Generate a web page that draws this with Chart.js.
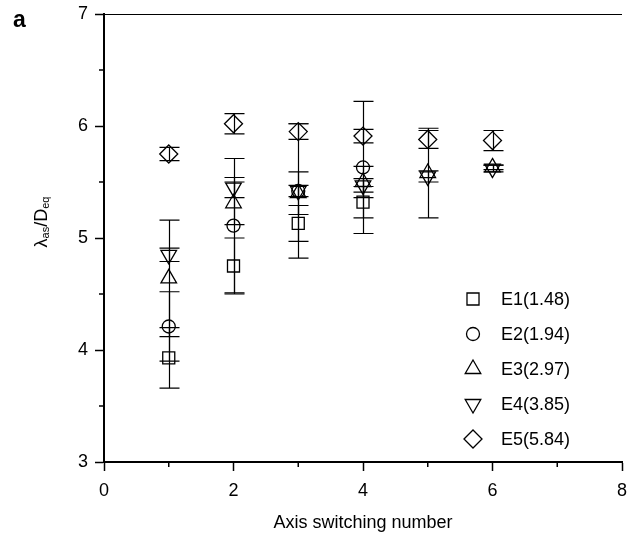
<!DOCTYPE html>
<html>
<head>
<meta charset="utf-8">
<script src="https://cdn.jsdelivr.net/npm/chart.js@4.4.1/dist/chart.umd.min.js"></script>
<style>
  body { margin: 0; background: #fff; }
  canvas { display: block; }
</style>
</head>
<body>
<canvas id="axisChart" width="640" height="542"></canvas>
<script>
// axis switching number on the x axis
const switchNum = [1, 2, 3, 4, 5, 6];

// mean lambda_as / D_eq per series (null = not measured)
const e1 = [3.93, 4.75, 5.13, 5.32, null, null];
const e2 = [4.21, 5.11, 5.42, 5.63, null, null];
const e3 = [4.64, 5.31, 5.40, 5.50, 5.58, 5.63];
const e4 = [4.85, 5.45, 5.42, 5.47, 5.55, 5.62];
const e5 = [5.75, 6.02, 5.95, 5.91, 5.88, 5.87];

// half-length of the error bars
const e1Err = [0.27, 0.25, 0.16, 0.14, null, null];
const e2Err = [0.31, 0.60, 0.60, 0.59, null, null];
const e3Err = [0.52, 0.19, 0.19, 0.14, 0.40, 0.02];
const e4Err = [0.06, 0.09, 0.05, 0.06, 0.05, 0.03];
const e5Err = [0.06, 0.09, 0.07, 0.06, 0.08, 0.09];

const seriesLabels = ["E1(1.48)", "E2(1.94)", "E3(2.97)", "E4(3.85)", "E5(5.84)"];
const xTicks = [0, 2, 4, 6, 8];
const yTicks = [3, 4, 5, 6, 7];

const FONT = "'Liberation Sans', Arial, sans-serif";

function points(vals, errs) {
  return switchNum
    .map((x, i) => ({ x: x, y: vals[i], err: errs[i] }))
    .filter((p) => p.y !== null);
}

const markers = [
  { pointStyle: "rect", radius: 8.5, rotation: 0 },
  { pointStyle: "circle", radius: 6.5, rotation: 0 },
  { pointStyle: "triangle", radius: 9, rotation: 0 },
  { pointStyle: "triangle", radius: 9, rotation: 180 },
  { pointStyle: "rectRot", radius: 9, rotation: 0 },
];

const allVals = [e1, e2, e3, e4, e5];
const allErrs = [e1Err, e2Err, e3Err, e4Err, e5Err];

const datasets = allVals.map((vals, k) => ({
  label: seriesLabels[k],
  data: points(vals, allErrs[k]),
  showLine: false,
  borderColor: "#000",
  backgroundColor: "rgba(0,0,0,0)",
  pointStyle: markers[k].pointStyle,
  pointRadius: markers[k].radius,
  pointRotation: markers[k].rotation,
  pointBorderWidth: 1.3,
}));

// vertical error bars with caps
const errorBars = {
  id: "errorBars",
  beforeDatasetsDraw(chart) {
    const { ctx, scales: { x, y } } = chart;
    ctx.save();
    ctx.strokeStyle = "#000";
    ctx.lineWidth = 1.2;
    chart.data.datasets.forEach((ds) => {
      ds.data.forEach((p) => {
        const px = Math.round(x.getPixelForValue(p.x)) + 0.5;
        const top = y.getPixelForValue(p.y + p.err);
        const bot = y.getPixelForValue(p.y - p.err);
        ctx.beginPath();
        ctx.moveTo(px, top);
        ctx.lineTo(px, bot);
        ctx.moveTo(px - 10, top);
        ctx.lineTo(px + 10, top);
        ctx.moveTo(px - 10, bot);
        ctx.lineTo(px + 10, bot);
        ctx.stroke();
      });
    });
    ctx.restore();
  },
};

// minor ticks, top frame line, y title, panel letter, legend
const decorations = {
  id: "decorations",
  afterDraw(chart) {
    const { ctx, chartArea: area, scales: { x, y } } = chart;
    ctx.save();
    ctx.strokeStyle = "#000";
    ctx.lineWidth = 1.5;
    ctx.beginPath();
    [1, 3, 5, 7].forEach((v) => {
      const px = x.getPixelForValue(v);
      ctx.moveTo(px, area.bottom);
      ctx.lineTo(px, area.bottom + 5);
    });
    [3.5, 4.5, 5.5, 6.5].forEach((v) => {
      const py = y.getPixelForValue(v);
      ctx.moveTo(area.left, py);
      ctx.lineTo(area.left - 5, py);
    });
    ctx.stroke();

    // thin top line
    ctx.lineWidth = 1;
    ctx.beginPath();
    ctx.moveTo(area.left, area.top + 0.5);
    ctx.lineTo(area.right, area.top + 0.5);
    ctx.stroke();

    // y title: lambda_as / D_eq
    ctx.fillStyle = "#000";
    ctx.translate(42, 222);
    ctx.rotate(-Math.PI / 2);
    const big = "18px " + FONT;
    const small = "11px " + FONT;
    const parts = [["\u03bb", big, 0], ["as", small, 4], ["/D", big, 0], ["eq", small, 4]];
    let total = 0;
    parts.forEach((p) => { ctx.font = p[1]; total += ctx.measureText(p[0]).width; });
    let cx = -total / 2;
    ctx.textBaseline = "middle";
    parts.forEach((p) => {
      ctx.font = p[1];
      ctx.fillText(p[0], cx, p[2]);
      cx += ctx.measureText(p[0]).width;
    });
    ctx.setTransform(1, 0, 0, 1, 0, 0);

    // panel letter
    ctx.font = "bold 23px " + FONT;
    ctx.textBaseline = "alphabetic";
    ctx.fillText("a", 13, 27);

    // legend
    const rowY = [299, 334, 369, 404, 439];
    ctx.font = "18px " + FONT;
    ctx.textBaseline = "middle";
    chart.data.datasets.forEach((ds, k) => {
      ctx.strokeStyle = "#000";
      ctx.fillStyle = "rgba(0,0,0,0)";
      ctx.lineWidth = 1.3;
      Chart.helpers.drawPoint(ctx, {
        pointStyle: markers[k].pointStyle,
        rotation: markers[k].rotation,
        radius: markers[k].radius,
        borderWidth: 1.3,
      }, 473, rowY[k]);
      ctx.fillStyle = "#000";
      ctx.fillText(ds.label, 501, rowY[k] + 1);
    });
    ctx.restore();
  },
};

const tickFont = { family: FONT, size: 18 };

const config = {
  type: "scatter",
  data: { datasets: datasets },
  options: {
    responsive: false,
    animation: false,
    layout: { padding: { left: 0, right: 18, top: 14, bottom: 0 } },
    plugins: {
      legend: { display: false },
      tooltip: { enabled: false },
    },
    scales: {
      x: {
        type: "linear",
        min: 0,
        max: 8,
        afterBuildTicks: (s) => { s.ticks = xTicks.map((v) => ({ value: v })); },
        ticks: { color: "#000", font: tickFont, padding: 9 },
        grid: { drawOnChartArea: false, tickLength: 9, tickColor: "#000", tickWidth: 1.5 },
        border: { color: "#000", width: 2 },
        title: {
          display: true,
          text: "Axis switching number",
          color: "#000",
          font: tickFont,
          padding: { top: 0, bottom: 8 },
        },
        afterFit: (s) => { s.height = 80; s.paddingLeft = 0; s.paddingRight = 0; },
      },
      y: {
        type: "linear",
        min: 3,
        max: 7,
        afterBuildTicks: (s) => { s.ticks = yTicks.map((v) => ({ value: v })); },
        ticks: { color: "#000", font: tickFont, padding: 7 },
        grid: { drawOnChartArea: false, tickLength: 9, tickColor: "#000", tickWidth: 1.5 },
        border: { color: "#000", width: 2 },
        afterFit: (s) => { s.width = 104; s.paddingTop = 0; s.paddingBottom = 0; },
      },
    },
  },
  plugins: [errorBars, decorations],
};

const axisChart = new Chart(document.getElementById("axisChart").getContext("2d"), config);
</script>
</body>
</html>
